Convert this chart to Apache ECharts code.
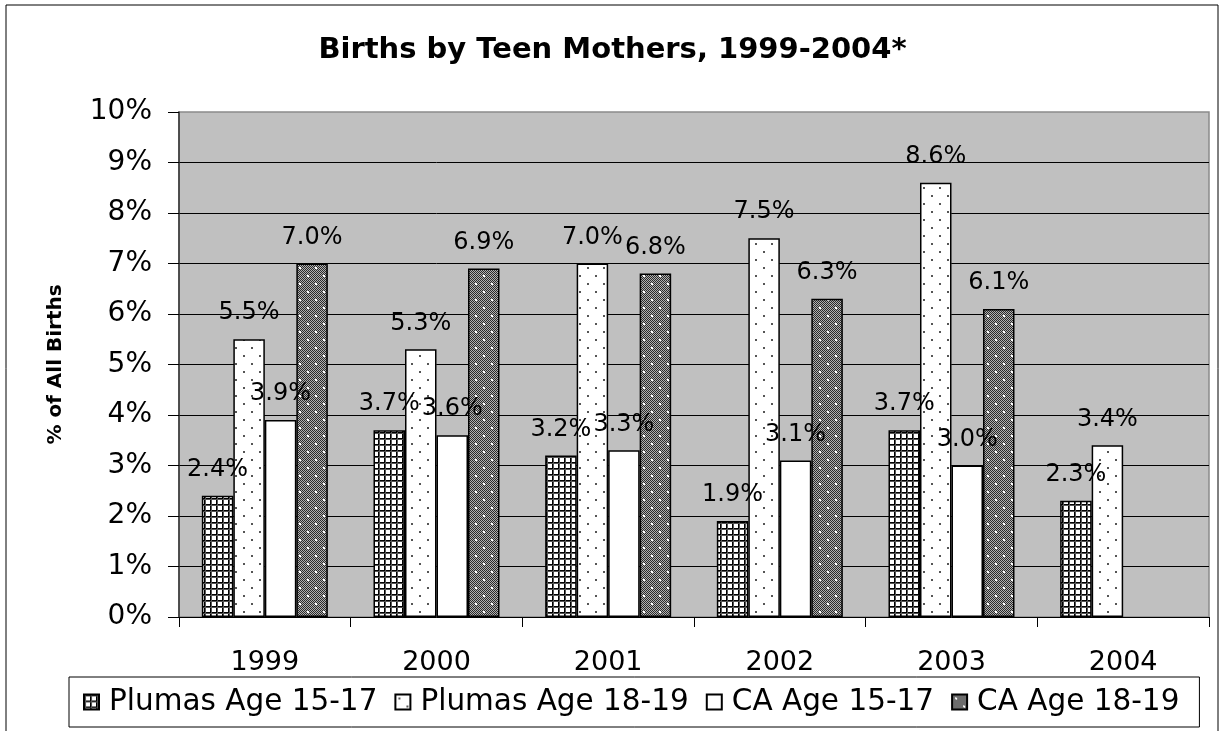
<!DOCTYPE html>
<html>
<head>
<meta charset="utf-8">
<script src="https://cdn.jsdelivr.net/npm/echarts@6/dist/echarts.min.js"></script>
<style>
html,body{margin:0;padding:0;background:#fff;}
#chart{width:1225px;height:731px;}
</style>
</head>
<body>
<div id="chart"></div>
<script>
var categories = ['1999', '2000', '2001', '2002', '2003', '2004'];
var plumas1517 = [2.4, 3.7, 3.2, 1.9, 3.7, 2.3];
var plumas1819 = [5.5, 5.3, 7.0, 7.5, 8.6, 3.4];
var ca1517 = [3.9, 3.6, 3.3, 3.1, 3.0, null];
var ca1819 = [7.0, 6.9, 6.8, 6.3, 6.1, null];
var seriesNames = ['Plumas Age 15-17', 'Plumas Age 18-19', 'CA Age 15-17', 'CA Age 18-19'];
var titleText = 'Births by Teen Mothers, 1999-2004*';
var yAxisName = '% of All Births';

function makeTile(size, draw) {
  var c = document.createElement('canvas');
  c.width = size; c.height = size;
  var ctx = c.getContext('2d');
  draw(ctx, size);
  return { image: c, repeat: 'repeat' };
}
var gridPattern = makeTile(6, function (ctx, s) {
  ctx.fillStyle = '#fff'; ctx.fillRect(0, 0, s, s);
  ctx.fillStyle = '#000';
  ctx.fillRect(0, 0, 1, s);
  ctx.fillRect(0, 0, s, 1);
  ctx.fillStyle = '#555';
  ctx.fillRect(1, 0, 1, s);
  ctx.fillRect(0, 1, s, 1);
});
var dotPattern = makeTile(16, function (ctx, s) {
  ctx.fillStyle = '#fff'; ctx.fillRect(0, 0, s, s);
  ctx.fillStyle = '#555';
  ctx.fillRect(3, 3, 2, 2);
  ctx.fillRect(11, 11, 2, 2);
});
var checkPattern = makeTile(16, function (ctx, s) {
  for (var y = 0; y < s; y++) {
    for (var x = 0; x < s; x++) {
      ctx.fillStyle = ((x + y) % 2 === 0) ? '#2a2a2a' : '#b0b0b0';
      ctx.fillRect(x, y, 1, 1);
    }
  }
  ctx.fillStyle = '#fff';
  ctx.fillRect(3, 3, 2, 2);
  ctx.fillRect(11, 11, 2, 2);
});

var FONT = 'DejaVu Sans';
var fills = [gridPattern, dotPattern, '#ffffff', checkPattern];
var datasets = [plumas1517, plumas1819, ca1517, ca1819];

var series = datasets.map(function (d, i) {
  return {
    name: seriesNames[i],
    type: 'bar',
    data: d,
    barGap: '0%',
    barCategoryGap: '26.6%',
    itemStyle: { color: fills[i], borderColor: '#000', borderWidth: 1.5 },
    label: {
      show: true,
      position: 'top',
      distance: 14,
      color: '#000',
      fontFamily: FONT,
      fontSize: 24,
      formatter: function (p) { return p.value == null ? '' : p.value.toFixed(1) + '%'; }
    }
  };
});

var chart = echarts.init(document.getElementById('chart'), null, { renderer: 'canvas' });
chart.setOption({
  animation: false,
  backgroundColor: '#fff',
  title: {
    text: titleText,
    left: 'center',
    top: 31,
    textStyle: { fontFamily: FONT, fontSize: 29, fontWeight: 'bold', color: '#000' }
  },
  graphic: [{
    type: 'rect',
    shape: { x: 6, y: 5, width: 1212, height: 740 },
    style: { fill: 'none', stroke: '#000', lineWidth: 1 },
    silent: true
  }],
  legend: {
    data: seriesNames,
    icon: 'rect',
    left: 69,
    top: 677,
    padding: [8, 20, 8, 14],
    itemGap: 17,
    itemWidth: 15,
    itemHeight: 15,
    borderColor: '#000',
    borderWidth: 1,
    textStyle: { fontFamily: FONT, fontSize: 29.5, color: '#000', lineHeight: 34, padding: [0, 0, 0, 5] }
  },
  grid: {
    left: 179, right: 16, top: 112, bottom: 114,
    show: true,
    backgroundColor: '#c0c0c0',
    borderColor: '#8a8a8a',
    borderWidth: 1.5
  },
  xAxis: {
    type: 'category',
    data: categories,
    axisLine: { lineStyle: { color: '#000', width: 1 } },
    axisTick: { show: true, length: 10, lineStyle: { color: '#000' } },
    axisLabel: { margin: 32, fontFamily: FONT, fontSize: 27, color: '#000' }
  },
  yAxis: {
    type: 'value',
    min: 0, max: 10, interval: 1,
    name: yAxisName,
    nameLocation: 'middle',
    nameGap: 113,
    nameTextStyle: { fontFamily: FONT, fontSize: 20, fontWeight: 'bold', color: '#000' },
    axisLine: { show: true, lineStyle: { color: '#333', width: 1.5 } },
    axisTick: { show: true, length: 11, lineStyle: { color: '#000' } },
    axisLabel: { margin: 27, fontFamily: FONT, fontSize: 28, color: '#000', formatter: '{value}%' },
    splitLine: { show: true, showMinLine: false, showMaxLine: false, lineStyle: { color: '#000', width: 1 } }
  },
  series: series
});
</script>
</body>
</html>
